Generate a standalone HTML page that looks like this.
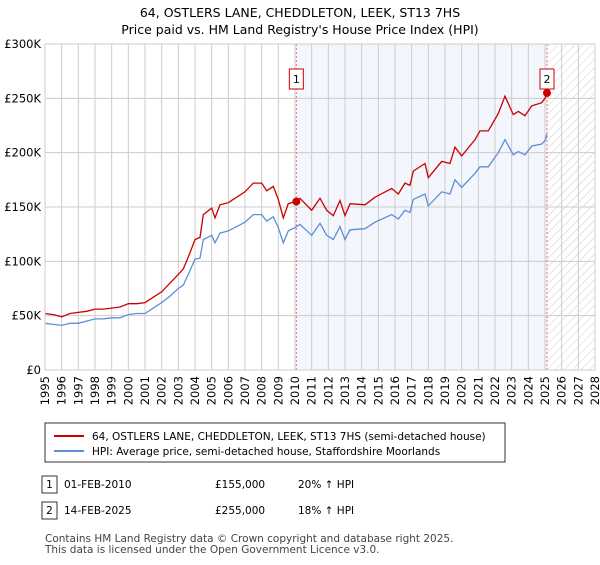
<!DOCTYPE html>
<html><head><meta charset="utf-8"><style>
body{margin:0;background:#fff;font-family:"Liberation Sans","DejaVu Sans",sans-serif;}
svg text{font-family:"DejaVu Sans","Liberation Sans",sans-serif;}
</style></head><body>
<svg id="chart" width="600" height="560" xmlns="http://www.w3.org/2000/svg">
<defs><pattern id="hatch" width="6" height="6" patternUnits="userSpaceOnUse" patternTransform="rotate(45)"><line x1="0" y1="0" x2="0" y2="6" stroke="#ccc" stroke-width="1"/></pattern></defs>
<text x="300" y="17" text-anchor="middle" font-size="12.5">64, OSTLERS LANE, CHEDDLETON, LEEK, ST13 7HS</text>
<text x="300" y="34" text-anchor="middle" font-size="12.5">Price paid vs. HM Land Registry's House Price Index (HPI)</text>
<g id="plot"></g>
<g>
<rect x="45" y="423" width="460" height="39" fill="#fff" stroke="#333"/>
<line x1="54" y1="436" x2="84" y2="436" stroke="#cc0000" stroke-width="2"/>
<text x="92" y="440" font-size="10.5">64, OSTLERS LANE, CHEDDLETON, LEEK, ST13 7HS (semi-detached house)</text>
<line x1="54" y1="451" x2="84" y2="451" stroke="#5b8fd6" stroke-width="2"/>
<text x="92" y="455" font-size="10.5">HPI: Average price, semi-detached house, Staffordshire Moorlands</text>
</g>
<g font-size="10.5">
<rect x="42" y="476" width="15" height="17" fill="#fff" stroke="#333"/><text x="49.5" y="488" text-anchor="middle">1</text>
<text x="64" y="488">01-FEB-2010</text><text x="215" y="488">£155,000</text><text x="298" y="488">20% ↑ HPI</text>
<rect x="42" y="502" width="15" height="17" fill="#fff" stroke="#333"/><text x="49.5" y="514" text-anchor="middle">2</text>
<text x="64" y="514">14-FEB-2025</text><text x="215" y="514">£255,000</text><text x="298" y="514">18% ↑ HPI</text>
</g>
<text x="45" y="542" font-size="10.5" fill="#444">Contains HM Land Registry data © Crown copyright and database right 2025.</text>
<text x="45" y="553" font-size="10.5" fill="#444">This data is licensed under the Open Government Licence v3.0.</text>
</svg>
<script>
const yearsT=[1995,1995.5,1996,1996.5,1997,1997.5,1998,1998.5,1999,1999.5,2000,2000.5,2001,2001.5,2002,2002.5,2003,2003.3,2003.6,2004,2004.3,2004.5,2005,2005.2,2005.5,2006,2006.5,2007,2007.5,2008,2008.3,2008.7,2009,2009.3,2009.6,2010,2010.3,2011,2011.5,2011.9,2012.3,2012.7,2013,2013.3,2014.2,2014.8,2015.8,2016.2,2016.6,2016.9,2017.1,2017.8,2018,2018.8,2019.3,2019.6,2020,2020.8,2021.1,2021.6,2022.2,2022.6,2023.1,2023.4,2023.8,2024.2,2024.8,2025.0,2025.12];
const hpi=[43,42,41,43,43,45,47,47,48,48,51,52,52,57,62,68,75,78,88,102,103,120,124,117,126,128,132,136,143,143,137,141,131,117,128,131,134,124,135,124,120,132,120,129,130,136,143,139,147,145,157,162,151,164,162,175,168,181,187,187,200,212,198,201,198,206,208,211,217];
const paid=[52,51,49,52,53,54,56,56,57,58,61,61,62,67,72,80,88,93,104,120,122,143,149,140,152,154,159,164,172,172,165,169,157,140,153,155,158,147,158,147,142,156,142,153,152,159,167,162,172,170,183,190,177,192,190,205,197,212,220,220,236,252,235,238,234,243,246,250,255];
const yTicks=[0,50,100,150,200,250,300];
const yTickLabels=["£0","£50K","£100K","£150K","£200K","£250K","£300K"];
const xYears=[1995,1996,1997,1998,1999,2000,2001,2002,2003,2004,2005,2006,2007,2008,2009,2010,2011,2012,2013,2014,2015,2016,2017,2018,2019,2020,2021,2022,2023,2024,2025,2026,2027,2028];
const saleDates=[2010.08,2025.12];
const salePrices=[155,255];
const saleLabels=["1","2"];
const X0=45,X1=595,Y0=370,Y1=44;
const xs=y=>X0+(y-1995)/(2028-1995)*(X1-X0);
const ys=v=>Y0-v/300*(Y0-Y1);
const NS="http://www.w3.org/2000/svg";
const g=document.getElementById('plot');
function mk(t,a,p){const e=document.createElementNS(NS,t);for(const k in a)e.setAttribute(k,a[k]);(p||g).appendChild(e);return e;}
let r=mk('rect',{x:xs(saleDates[0]),y:Y1,width:xs(saleDates[1])-xs(saleDates[0]),height:Y0-Y1,fill:'#f3f6fd'});


r=mk('rect',{x:xs(saleDates[1]),y:Y1,width:X1-xs(saleDates[1]),height:Y0-Y1,fill:'url(#hatch)'});


yTicks.forEach((v,i)=>{
 const l=mk('line',{x1:X0,x2:X1,y1:ys(v),y2:ys(v),stroke:'#ccc'});
 
 
 const t=mk('text',{x:X0-4,y:ys(v)+4,'text-anchor':'end','font-size':'11.5'});
 t.textContent=yTickLabels[i];
 
 
});
xYears.forEach(yr=>{
 const l=mk('line',{x1:xs(yr),x2:xs(yr),y1:Y1,y2:Y0,stroke:'#ccc'});
 
 
 const t=mk('text',{x:0,y:0,'text-anchor':'end','font-size':'11.5',transform:`translate(${xs(yr)+4},${Y0+6}) rotate(-90)`});
 t.textContent=yr;
 
 
});
saleDates.forEach((d,i)=>{
 const l=mk('line',{x1:xs(d),x2:xs(d),y1:Y1,y2:Y0,stroke:'#f07070','stroke-dasharray':'2,2'});
 
 
});
function path(arr,col,name){
 const p=mk('path',{d:arr.map((v,i)=>(i?'L':'M')+xs(yearsT[i]).toFixed(1)+','+ys(v).toFixed(1)).join(''),fill:'none',stroke:col,'stroke-width':1.3});
 
 
}
path(hpi,'#5b8fd6','hpi-line');
path(paid,'#cc0000','price-paid-line');
saleDates.forEach((d,i)=>{
 const c=mk('circle',{cx:xs(d),cy:ys(salePrices[i]),r:4,fill:'#cc0000'});
 
 
 const b=mk('rect',{x:xs(d)-7,y:69,width:14,height:20,fill:'#fff',stroke:'#cc0000'});
 
 
 const t=mk('text',{x:xs(d),y:83,'text-anchor':'middle','font-size':'11'});
 t.textContent=saleLabels[i];
 
 
});
const f=mk('rect',{x:X0,y:Y1,width:X1-X0,height:Y0-Y1,fill:'none',stroke:'#ccc'});


</script>
</body></html>
